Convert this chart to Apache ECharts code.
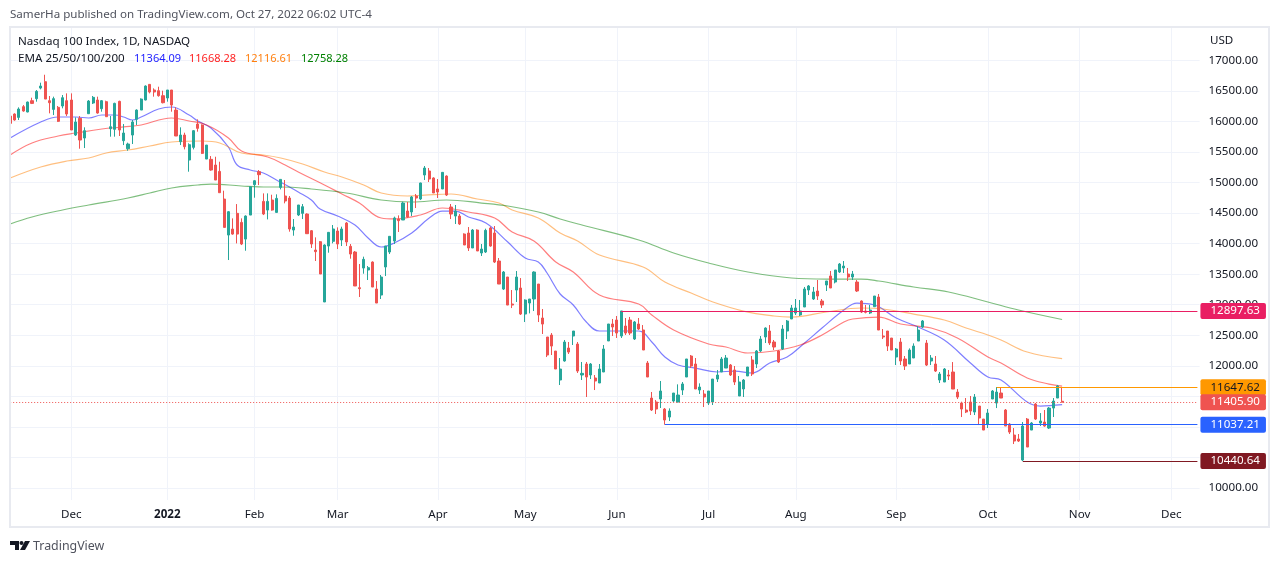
<!DOCTYPE html>
<html><head><meta charset="utf-8">
<style>html,body{margin:0;padding:0;background:#fff}#c{width:1280px;height:563px}</style>
<script src="https://cdn.jsdelivr.net/npm/echarts@6/dist/echarts.min.js"></script>
</head><body><div id="c"></div>
<script>
// Each candle: [open, close, low, high]
const nov21=[[16089,15969,15914,16242],[16122,16024,16013,16133],[16067,16204,16024,16231],[16242,16171,16160,16269],[16155,16318,16150,16325],[16340,16296,16285,16389],[16373,16493,16324,16515],[16547,16580,16526,16635],[16651,16367,16367,16765],[16340,16307,16133,16417],[16198,16373,16105,16406],[16231,16002,15991,16253],[16253,16389,16215,16433],[16340,16122,16089,16460]];
const dec21=[[16351,15860,15860,16460],[15778,15991,15762,16067],[16051,15696,15554,16089],[15729,15849,15565,15904],[16127,16335,16122,16351],[16302,16395,16286,16417],[16351,16138,16127,16406],[16209,16340,16160,16351],[16324,16078,16078,16340],[15882,15914,15751,16089],[15871,16296,15751,16307],[16329,15860,15762,16340],[15685,15811,15614,15958],[15554,15631,15521,15653],[15778,15991,15631,16024],[16035,16187,15942,16198],[16187,16367,16187,16378],[16351,16580,16346,16591],[16607,16482,16460,16613],[16515,16482,16406,16542],[16504,16422,16406,16569],[16422,16307,16296,16504]];
const jan22=[[16384,16515,16324,16515],[16515,16269,16160,16515],[16187,15762,15762,16231],[15669,15778,15614,15904],[15778,15587,15543,15816],[15369,15620,15178,15642],[15576,15849,15543,15860],[15958,15887,15833,16034],[15942,15478,15467,15953],[15385,15614,15385,15614],[15380,15205,15194,15434],[15287,15041,15041,15423],[15183,14834,14834,15341],[14730,14266,14266,14867],[14141,14523,13732,14534],[14239,14157,14146,14414],[14496,14157,14004,14648],[14348,13994,13977,14414],[14075,14452,13884,14463],[14468,14932,14468,14943]];
const feb22=[[14965,15030,14752,15041],[15178,15129,14959,15205],[14692,14485,14468,14823],[14550,14692,14397,14823],[14714,14550,14539,14801],[14512,14741,14507,14807],[14921,15052,14888,15052],[14780,14698,14660,15042],[14747,14240,14196,14780],[14223,14272,14130,14403],[14469,14633,14452,14633],[14496,14605,14403,14649],[14485,14163,14158,14496],[14212,13994,13929,14223],[13896,13869,13716,14103],[14032,13503,13503,14043],[13045,13978,13045,13988],[13961,14185,13852,14191],[14038,14240,14005,14305]];
const mar22=[[14207,13994,13912,14267],[14060,14240,13961,14278],[14338,14027,13961,14354],[13956,13830,13754,13994],[13863,13307,13307,13880],[13279,13263,13127,13667],[13601,13743,13508,13787],[13569,13607,13405,13634],[13699,13290,13290,13710],[13257,13028,13028,13388],[13159,13454,13094,13487],[13618,13961,13470,13961],[13863,14120,13830,14125],[14043,14420,13994,14442],[14403,14376,14191,14463],[14387,14665,14387,14687],[14534,14436,14420,14682],[14518,14764,14452,14780],[14780,14747,14583,14813],[14731,14993,14714,14998],[15124,15238,15042,15271],[15189,15058,15009,15238],[15075,14829,14829,15086]];
const apr22=[[14895,14845,14747,15058],[14895,15167,14895,15173],[15107,14796,14780,15118],[14600,14485,14403,14649],[14452,14534,14322,14633],[14452,14322,14305,14485],[14158,13978,13978,14169],[14174,13929,13880,14272],[13929,14223,13929,14240],[14223,13880,13880,14234],[13847,13912,13798,13994],[13863,14218,13847,14245],[14256,13961,13950,14278],[14174,13699,13683,14289],[13716,13339,13339,13765],[13257,13536,13241,13552],[13454,12995,12995,13454],[13012,12995,12946,13241],[13241,13454,13045,13552],[13274,12848,12832,13437]];
const may22=[[12848,13077,12717,13088],[13028,13094,12859,13094],[13094,13536,12897,13547],[13339,12832,12717,13339],[12783,12684,12521,12930],[12472,12177,12144,12472],[12504,12324,12177,12537],[12242,11948,11948,12242],[11768,11948,11686,12128],[12079,12390,12068,12423],[12292,12226,12194,12390],[12488,12570,12341,12570],[12357,11915,11883,12390],[11850,11877,11768,12063],[12030,11817,11490,12063],[11850,12030,11784,12046],[11801,11752,11604,11850],[11719,11948,11719,12030],[11899,12276,11899,12341],[12407,12685,12407,12685],[12685,12636,12488,12767]];
const jun22=[[12750,12537,12456,12816],[12488,12898,12456,12898],[12652,12537,12505,12783],[12750,12537,12505,12800],[12439,12718,12423,12734],[12685,12603,12587,12783],[12587,12259,12259,12668],[12046,11817,11817,12079],[11473,11277,11261,11572],[11408,11293,11211,11441],[11457,11588,11310,11752],[11293,11113,11037,11310],[11162,11261,11097,11304],[11424,11555,11408,11555],[11408,11522,11402,11697],[11604,11703,11522,11735],[11817,12112,11817,12112],[12161,11997,11964,12177],[12030,11621,11621,12128],[11604,11653,11539,11713],[11539,11490,11326,11604]];
const jul22=[[11391,11588,11359,11588],[11408,11784,11359,11784],[11784,11850,11735,11932],[11899,12112,11899,12145],[11964,12128,11964,12177],[12014,11850,11834,12030],[11932,11735,11686,11997],[11506,11735,11506,11834],[11621,11768,11490,11784],[11834,11981,11834,11981],[12096,11866,11834,12161],[12030,12243,11964,12259],[12243,12439,12226,12488],[12472,12619,12374,12630],[12570,12374,12341,12668],[12390,12308,12259,12423],[12243,12063,12046,12259],[12276,12603,12259,12668],[12570,12734,12439,12750],[12767,12947,12767,12996]];
const aug22=[[12865,12947,12832,13094],[12832,12898,12816,13078],[12963,13258,12963,13291],[13241,13307,13160,13323],[13094,13209,13078,13291],[13225,13143,13078,13405],[13061,12996,12947,13094],[13323,13389,13225,13389],[13471,13274,13274,13553],[13372,13569,13350,13569],[13536,13667,13520,13683],[13602,13634,13520,13716],[13503,13454,13389,13602],[13454,13503,13405,13553],[13372,13225,13209,13405],[13061,12881,12865,13072],[12897,12876,12859,12996],[12865,12914,12848,12996],[12968,13143,12968,13143],[13126,12586,12586,13176],[12488,12472,12439,12603],[12570,12324,12243,12570],[12455,12259,12259,12455]];
const sep22=[[12144,12275,12013,12292],[12390,12079,12013,12455],[12112,11997,11932,12161],[12030,12259,12030,12286],[12128,12324,12128,12368],[12406,12586,12406,12652],[12635,12734,12619,12750],[12373,12013,11997,12423],[12079,12128,12013,12177],[12030,11915,11899,12161],[11768,11866,11719,11899],[11735,11948,11735,11964],[11850,11833,11768,11932],[11899,11620,11620,12062],[11571,11489,11457,11620],[11391,11293,11162,11413],[11277,11244,11227,11473],[11408,11260,11195,11506],[11244,11489,11195,11539],[11342,11146,11031,11342],[11129,10949,10949,11129]];
const oct22=[[11047,11228,10982,11293],[11457,11588,11457,11604],[11391,11571,11309,11653],[11555,11473,11473,11653],[11277,11015,11015,11293],[11047,10916,10884,11064],[10867,10769,10720,10982],[10802,10769,10753,10884],[10458,11015,10441,11080],[11129,10671,10671,11146],[10949,11064,10949,11080],[11375,11129,11113,11391],[11064,11097,11015,11227],[11080,11015,11004,11277],[10982,11309,10966,11326],[11309,11424,11162,11473],[11473,11670,11473,11686],[11420,11405.9,11400,11647.62]];

// EMA lines: [bar number, value]
const ema25=[[0,15730],[7,15991],[11,16073],[15,16073],[18,16057],[21,16106],[24,16106],[26,16073],[28,16024],[30,16073],[34,16204],[37,16237],[41,16106],[43,16008],[46,15893],[50,15582],[52,15288],[55,15206],[58,15157],[61,15042],[64,14927],[66,14846],[69,14715],[71,14567],[75,14453],[79,14305],[82,14093],[85,13945],[88,14011],[92,14174],[96,14420],[99,14534],[102,14534],[105,14436],[109,14338],[114,14027],[118,13765],[121,13700],[123,13520],[126,13176],[129,12996],[132,12717],[135,12570],[144,12570],[147,12390],[150,12144],[153,12014],[157,11964],[162,11899],[166,11915],[170,11883],[174,12046],[178,12144],[182,12374],[186,12619],[191,12914],[194,13028],[198,12996],[203,12783],[208,12636],[214,12423],[220,12046],[224,11817],[227,11768],[233,11408],[236,11342],[241,11364.09]];
const ema50=[[0,15451],[5,15648],[11,15762],[15,15811],[21,15877],[26,15910],[30,15942],[37,16057],[41,16008],[45,15942],[50,15730],[53,15517],[59,15418],[63,15288],[66,15173],[72,14960],[76,14813],[80,14665],[85,14420],[88,14404],[94,14469],[99,14584],[105,14518],[111,14420],[115,14191],[120,14043],[125,13700],[129,13536],[135,13159],[144,13012],[147,12832],[152,12586],[160,12357],[164,12308],[169,12210],[175,12243],[181,12341],[186,12505],[191,12717],[193,12767],[199,12799],[204,12685],[211,12619],[217,12456],[224,12144],[227,12046],[233,11801],[238,11702],[241,11668.28]];
const ema100=[[0,15075],[7,15255],[13,15353],[18,15402],[22,15484],[27,15533],[32,15599],[37,15664],[44,15680],[48,15648],[53,15484],[58,15451],[62,15402],[67,15304],[72,15173],[76,15091],[81,14960],[85,14829],[91,14780],[95,14796],[101,14813],[107,14731],[112,14665],[115,14551],[121,14420],[126,14174],[130,14043],[135,13814],[145,13618],[150,13372],[156,13192],[161,13045],[168,12897],[175,12816],[179,12799],[187,12881],[195,12947],[200,12930],[207,12848],[214,12750],[219,12619],[224,12505],[227,12423],[233,12226],[241,12116.61]];
const ema200=[[0,14322],[5,14436],[12,14551],[18,14633],[27,14747],[32,14829],[37,14911],[43,14960],[46,14976],[53,14944],[59,14927],[62,14927],[69,14895],[77,14829],[85,14715],[92,14682],[100,14715],[108,14665],[114,14616],[121,14518],[126,14404],[131,14305],[144,14060],[152,13847],[160,13683],[169,13536],[179,13438],[187,13421],[195,13421],[199,13389],[207,13290],[215,13209],[224,13045],[231,12914],[241,12758.28]];

const yTicks=[10000,10500,11000,11500,12000,12500,13000,13500,14000,14500,15000,15500,16000,16500,17000];
const monthBars=[['',14],['Dec',22],['2022',20],['Feb',19],['Mar',23],['Apr',20],['May',21],['Jun',21],['Jul',20],['Aug',23],['Sep',21],['Oct',21],['Nov',21],['Dec',7]];
// [price, bar number where the level starts, colour, text colour]
const levels=[[12897.63,140,'#e91e63','#ffffff'],[11647.62,226,'#ff9800','#131722'],[11037.21,150,'#2962ff','#ffffff'],[10440.64,232,'#801922','#ffffff']];
const lastClose=11405.90;
const legendValues=['11364.09','11668.28','12116.61','12758.28'];

const FONT='"Noto Sans", sans-serif';
const FS=11.6;
const candles=[].concat(nov21,dec21,jan22,feb22,mar22,apr22,may22,jun22,jul22,aug22,sep22,oct22);
const categories=[],monthAt={};
monthBars.forEach(([name,n],m)=>{ if(name) monthAt[categories.length]=name; for(let k=0;k<n;k++) categories.push(m+'-'+k); });
const isMonth=i=>monthAt[i]!==undefined;

const lastBar=categories.length-1;
const tag=(text,bg,fg)=>({show:true,position:'end',distance:3,formatter:text,backgroundColor:bg,color:fg,fontFamily:FONT,fontSize:FS,padding:[3,6,1,10],borderRadius:2});
const markData=levels.map(([v,s,col,fg])=>[
 {coord:[s,v],lineStyle:{color:col,width:1,type:'solid'},label:tag(v.toFixed(2),col,fg)},
 {coord:[lastBar,v]}]);
markData.push([
 {coord:[0,lastClose],lineStyle:{color:'#ef5350',width:1,type:[1,2]},label:tag(lastClose.toFixed(2),'#ef5350','#ffffff')},
 {coord:[lastBar,lastClose]}]);

const emaLine=(name,data,color)=>({type:'line',name,data,smooth:0.4,showSymbol:false,symbol:'none',silent:true,z:3,
  lineStyle:{color,width:1.2,opacity:0.5}});

const chart=echarts.init(document.getElementById('c'),null,{renderer:'canvas'});
const txt=(x,y,text,fill,extra)=>({type:'text',x,y,z:50,silent:true,style:Object.assign({text,fill,font:FS+'px '+FONT,textVerticalAlign:'middle'},extra||{})});

chart.setOption({
 animation:false,backgroundColor:'#ffffff',
 grid:{left:8,top:28,width:1191.6,height:472,containLabel:false},
 xAxis:{type:'category',data:categories,boundaryGap:true,
  axisLine:{show:false},axisTick:{show:false,alignWithLabel:true,interval:i=>isMonth(i)},
  splitLine:{show:true,alignWithLabel:true,interval:i=>isMonth(i),lineStyle:{color:'#f0f3fa',width:1}},
  axisLabel:{interval:i=>isMonth(i),margin:9,fontFamily:FONT,fontSize:FS,color:'#131722',hideOverlap:false,
   formatter:(v,i)=>{const m=monthAt[i]; return m==='2022'?'{b|2022}':(m||'');},
   rich:{b:{fontWeight:'bold',fontFamily:FONT,fontSize:FS,color:'#131722'}}}},
 yAxis:{type:'value',position:'right',min:9804,max:17530,scale:true,
  axisLine:{show:false},
  axisTick:{show:false,customValues:yTicks},
  splitLine:{show:true,lineStyle:{color:'#f0f3fa',width:1}},
  axisLabel:{customValues:yTicks,margin:9,fontFamily:FONT,fontSize:FS,color:'#131722',padding:[3,0,0,0],formatter:v=>v.toFixed(2)}},
 series:[
  {type:'candlestick',data:candles,barWidth:2.6,z:4,silent:true,clip:true,
   itemStyle:{color:'#26a69a',color0:'#ef5350',borderColor:'#26a69a',borderColor0:'#ef5350',borderWidth:1},
   markLine:{silent:true,symbol:'none',animation:false,data:markData,z:6}},
  emaLine('EMA 25',ema25,'#0000ff'),
  emaLine('EMA 50',ema50,'#ff0000'),
  emaLine('EMA 100',ema100,'#ff7f00'),
  emaLine('EMA 200',ema200,'#008000')
 ],
 graphic:[
  {type:'rect',z:40,silent:true,shape:{x:0,y:26,width:10,height:476},style:{fill:'#ffffff'}},
  {type:'rect',z:41,silent:true,shape:{x:10,y:27,width:1259,height:500},style:{fill:'none',stroke:'#e8eaf0',lineWidth:2}},
  txt(10,14.5,'SamerHa published on TradingView.com, Oct 27, 2022 06:02 UTC-4','#50535e'),
  txt(18,42,'Nasdaq 100 Index, 1D, NASDAQ','#131722'),
  txt(18,59,'EMA 25/50/100/200','#131722'),
  txt(134,59,legendValues[0],'#2222ff',{font:'11px '+FONT}),
  txt(189,59,legendValues[1],'#ff2222',{font:'11px '+FONT}),
  txt(245,59,legendValues[2],'#ff7f0e',{font:'11px '+FONT}),
  txt(301,59,legendValues[3],'#008000',{font:'11px '+FONT}),
  txt(1210,41,'USD','#131722'),
  {type:'polygon',z:50,silent:true,shape:{points:[[10,541],[19,541],[19,550],[15,550],[15,545],[10,545]]},style:{fill:'#131722'}},
  {type:'circle',z:50,silent:true,shape:{cx:21.5,cy:543,r:2},style:{fill:'#131722'}},
  {type:'polygon',z:50,silent:true,shape:{points:[[25,541],[30,541],[25,550],[20,550]]},style:{fill:'#131722'}},
  txt(33,546,'TradingView','#50535e',{font:'12.4px '+FONT})
 ]
});
</script></body></html>
